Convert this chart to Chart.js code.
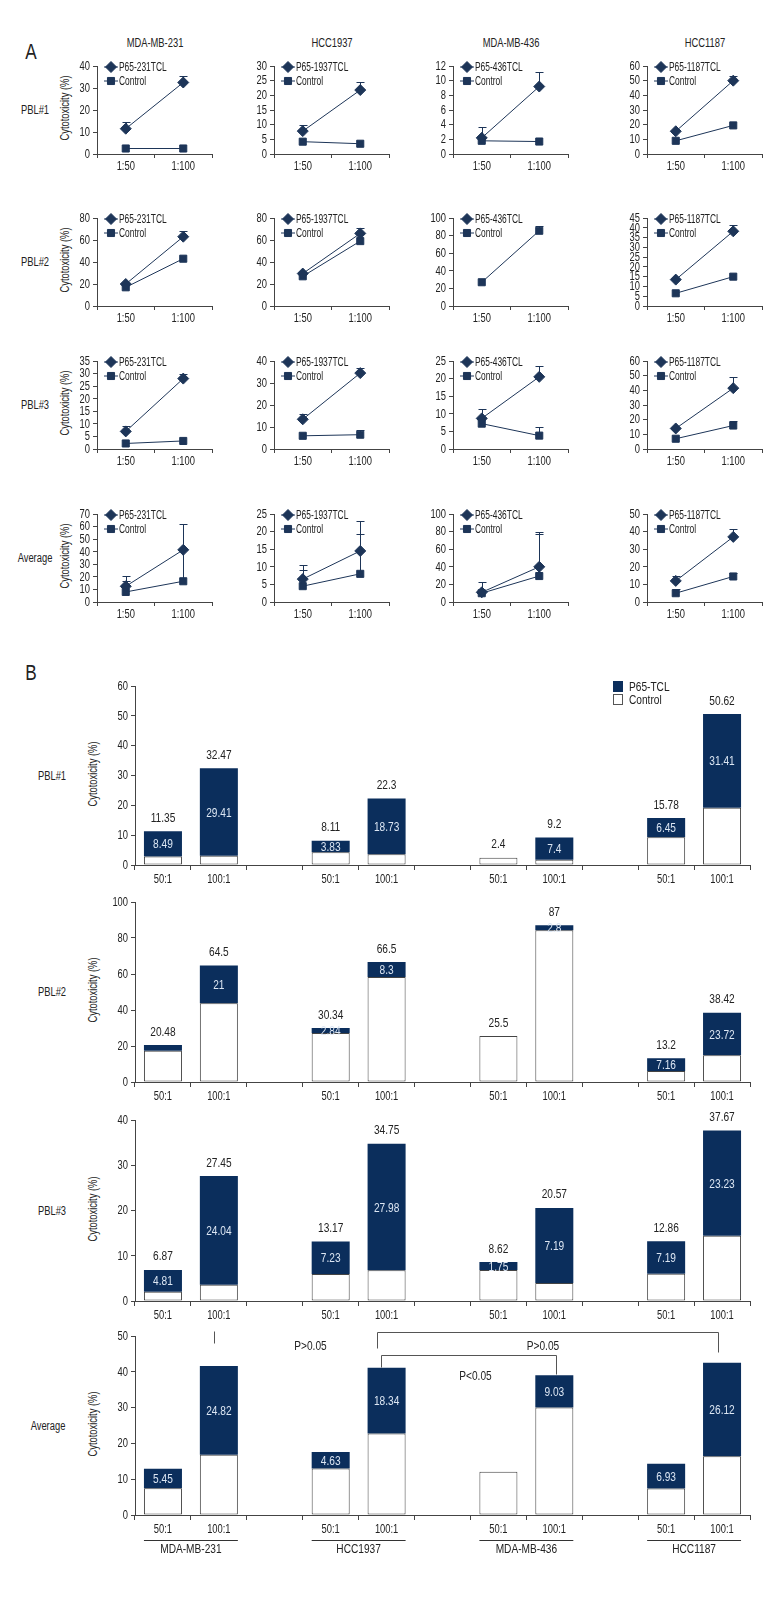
<!DOCTYPE html>
<html>
<head>
<meta charset="utf-8">
<script src="https://cdn.jsdelivr.net/npm/chart.js@4.4.1/dist/chart.umd.min.js"></script>
<style>
  body { margin: 0; background: #fff; width: 780px; height: 1620px; position: relative; overflow: hidden; color: #222;
         font-family: "Liberation Sans", Arial, sans-serif; }
  canvas { position: absolute; }
  .txt { position: absolute; white-space: nowrap; line-height: 1; }
</style>
</head>
<body>
<script>
// ---- Data ----
const cellLines = ["MDA-MB-231", "HCC1937", "MDA-MB-436", "HCC1187"];
const rowNames = ["PBL#1", "PBL#2", "PBL#3", "Average"];
const ratioLabels = ["1:50", "1:100"];
const p65Names = ["P65-231TCL", "P65-1937TCL", "P65-436TCL", "P65-1187TCL"];

// Panel A, [row][cell line] = [1:50, 1:100]
const p65Line = [
  [[11.5, 32.5], [7.8, 21.8], [2.2, 9.2], [15.5, 50]],
  [[20, 63], [29.5, 66], [null, null], [13.5, 38.2]],
  [[7, 28], [13.5, 34.5], [8.7, 20.5], [14, 41.5]],
  [[12.5, 41.5], [6.5, 14.5], [11, 40], [12, 37]],
];
const p65ErrTop = [
  [[14.5, 35.5], [9.8, 24.5], [3.7, 11.2], [null, 53]],
  [[null, 68], [null, 71], [null, null], [null, 41.5]],
  [[9, 30], [16, 37], [11.5, 23.5], [null, 49]],
  [[20.5, 62], [10.5, 23], [23, 79], [15, 41.5]],
];
const ctrlLine = [
  [[2.5, 2.5], [4.2, 3.5], [1.8, 1.7], [9, 19.5]],
  [[17, 43], [27, 59], [27, 85.5], [6.5, 15]],
  [[2.2, 3.2], [6, 6.5], [7.2, 3.8], [7, 16]],
  [[8, 16.5], [4.5, 8], [10, 29.5], [5, 14.5]],
];
const ctrlErrTop = [
  [[null, null], [null, null], [null, null], [null, null]],
  [[null, null], [null, null], [null, 91], [null, null]],
  [[null, null], [null, 8.5], [null, 6.2], [null, 19]],
  [[17, 41.5], [9, 19.3], [null, 77.5], [7.5, 16.5]],
];
const yMaxA = [[40, 30, 12, 60], [80, 80, 100, 45], [35, 40, 25, 60], [70, 25, 100, 50]];
const yStepA = [[10, 5, 2, 10], [20, 20, 20, 5], [5, 10, 5, 10], [10, 5, 20, 10]];

// Panel B
const barLabels = ["50:1", "100:1", "", "50:1", "100:1", "", "50:1", "100:1", "", "50:1", "100:1"];
const ctrlBars = [
  [2.86, 3.06, null, 4.28, 3.57, null, 2.4, 1.8, null, 9.33, 19.21],
  [17.4, 43.7, null, 27.2, 58.3, null, 25.5, 84.3, null, 6.1, 14.8],
  [2.06, 3.6, null, 5.94, 6.77, null, 6.87, 4.0, null, 6.0, 14.44],
  [7.5, 16.8, null, 13.0, 22.8, null, 12.1, 30.0, null, 7.4, 16.4],
];
const p65Bars = [
  [8.49, 29.41, null, 3.83, 18.73, null, null, 7.4, null, 6.45, 31.41],
  [3.1, 21, null, 2.84, 8.3, null, null, 2.8, null, 7.16, 23.72],
  [4.81, 24.04, null, 7.23, 27.98, null, 1.75, 16.57, null, 7.19, 23.23],
  [5.45, 24.82, null, 4.63, 18.34, null, null, 9.03, null, 6.93, 26.12],
];
const totalText = [
  ["11.35", "32.47", "", "8.11", "22.3", "", "2.4", "9.2", "", "15.78", "50.62"],
  ["20.48", "64.5", "", "30.34", "66.5", "", "25.5", "87", "", "13.2", "38.42"],
  ["6.87", "27.45", "", "13.17", "34.75", "", "8.62", "20.57", "", "12.86", "37.67"],
  ["", "", "", "", "", "", "", "", "", "", ""],
];
const segText = [
  ["8.49", "29.41", "", "3.83", "18.73", "", "", "7.4", "", "6.45", "31.41"],
  ["", "21", "", "2.84", "8.3", "", "", "2.8", "", "7.16", "23.72"],
  ["4.81", "24.04", "", "7.23", "27.98", "", "1.75", "7.19", "", "7.19", "23.23"],
  ["5.45", "24.82", "", "4.63", "18.34", "", "", "9.03", "", "6.93", "26.12"],
];
const yMaxB = [60, 100, 40, 50];
const yStepB = [10, 20, 10, 10];
const groupPairs = [[0, 1], [3, 4], [6, 7], [9, 10]];

// ---- Style ----
const FONT = '"Liberation Sans", Arial, sans-serif';
const SQUEEZE = 0.78; // the figure uses a condensed face, we narrow a normal one
const NAVY = "#0b2e5c";
const LINE = "#1d3558";
const AXIS = "#444";
const INK = "#222";
Chart.defaults.font.family = FONT;
Chart.defaults.color = INK;
Chart.defaults.animation = false;

function addCanvas(left, top, width, height) {
  const c = document.createElement("canvas");
  c.width = width;
  c.height = height;
  c.style.left = left + "px";
  c.style.top = top + "px";
  document.body.appendChild(c);
  return c;
}

function addText(text, x, y, size, rotate) {
  const d = document.createElement("div");
  d.className = "txt";
  d.textContent = text;
  d.style.left = x + "px";
  d.style.top = y + "px";
  d.style.fontSize = size + "px";
  d.style.transform = "translate(-50%,-50%)" + (rotate ? " rotate(-90deg)" : "") + " scaleX(" + SQUEEZE + ")";
  document.body.appendChild(d);
}

// narrow text on a canvas
function condText(ctx, text, x, y, align, color, size, squeeze) {
  ctx.save();
  ctx.font = (size || 12) + "px " + FONT;
  ctx.fillStyle = color || INK;
  ctx.textBaseline = "middle";
  ctx.textAlign = align;
  ctx.translate(x, y);
  ctx.scale(squeeze || SQUEEZE, 1);
  ctx.fillText(text, 0, 0);
  ctx.restore();
}

// tick labels drawn by hand so they can be narrowed
const tickText = {
  id: "tickText",
  afterDraw(chart, args, opts) {
    const { ctx, scales: { x, y }, chartArea: a } = chart;
    x.ticks.forEach((t, i) => {
      const lab = chart.data.labels[i];
      if (lab) condText(ctx, lab, x.getPixelForTick(i), a.bottom + opts.xGap, "center");
    });
    y.ticks.forEach((t) => {
      condText(ctx, String(t.value), a.left - 7, y.getPixelForValue(t.value) + 0.5, "right");
    });
  },
};

// error bars drawn under the markers
const errorBars = {
  id: "errorBars",
  beforeDatasetsDraw(chart) {
    const { ctx, scales: { x, y } } = chart;
    ctx.save();
    ctx.strokeStyle = LINE;
    ctx.lineWidth = 1;
    chart.data.datasets.forEach((ds) => {
      (ds.errTop || []).forEach((top, i) => {
        if (top == null || ds.data[i] == null) return;
        const px = Math.round(x.getPixelForValue(i)) + 0.5;
        const y0 = y.getPixelForValue(ds.data[i]);
        const y1 = Math.round(y.getPixelForValue(top)) + 0.5;
        ctx.beginPath();
        ctx.moveTo(px, y0);
        ctx.lineTo(px, y1);
        ctx.moveTo(px - 4, y1);
        ctx.lineTo(px + 4, y1);
        ctx.stroke();
      });
    });
    ctx.restore();
  },
};

// small legend inside the plot area (panel A)
const lineLegend = {
  id: "lineLegend",
  afterDraw(chart) {
    const { ctx, chartArea: a } = chart;
    chart.data.datasets.forEach((ds, k) => {
      const yy = a.top + 1 + k * 14;
      const x0 = a.left + 7;
      ctx.save();
      ctx.strokeStyle = LINE;
      ctx.fillStyle = LINE;
      ctx.lineWidth = 1;
      ctx.beginPath();
      ctx.moveTo(x0, yy);
      ctx.lineTo(x0 + 14, yy);
      ctx.stroke();
      Chart.helpers.drawPoint(ctx, { pointStyle: ds.pointStyle, radius: ds.pointRadius, borderWidth: 1 }, x0 + 7, yy);
      ctx.restore();
      condText(ctx, ds.label, x0 + 15, yy + 1, "left", INK, 12, 0.7);
    });
  },
};

// ---- Panel A ----
const colX = [97, 274, 453, 647];
const colW = 115;
const rowTop = [66, 218, 361, 514];
const rowH = 88;

addText("A", 31, 52, 22);
cellLines.forEach((name, c) => addText(name, colX[c] + colW / 2, 43, 12));

for (let r = 0; r < 4; r++) {
  addText(rowNames[r], 35, rowTop[r] + rowH / 2, 12);
  addText("Cytotoxicity (%)", 65, rowTop[r] + rowH / 2 - 2, 12, true);
  for (let c = 0; c < 4; c++) {
    const canvas = addCanvas(colX[c] - 40, rowTop[r] - 10, colW + 50, rowH + 38);
    new Chart(canvas, {
      type: "line",
      data: {
        labels: ratioLabels,
        datasets: [
          {
            label: p65Names[c],
            data: p65Line[r][c],
            errTop: p65ErrTop[r][c],
            borderColor: LINE,
            backgroundColor: LINE,
            borderWidth: 1,
            pointStyle: "rectRot",
            pointRadius: 5.5,
            pointBorderWidth: 1,
          },
          {
            label: "Control",
            data: ctrlLine[r][c],
            errTop: ctrlErrTop[r][c],
            borderColor: LINE,
            backgroundColor: LINE,
            borderWidth: 1,
            pointStyle: "rect",
            pointRadius: 5,
            pointBorderWidth: 1,
          },
        ],
      },
      options: {
        responsive: false,
        layout: { padding: { top: 10, right: 10, left: 0, bottom: 0 }, autoPadding: false },
        plugins: { legend: { display: false }, tooltip: { enabled: false }, tickText: { xGap: 13 } },
        scales: {
          x: {
            offset: true,
            grid: { offset: true, drawOnChartArea: false, tickLength: 4, color: AXIS },
            border: { color: AXIS },
            ticks: { display: false, autoSkip: false },
            afterFit: (s) => { s.height = 28; },
          },
          y: {
            min: 0,
            max: yMaxA[r][c],
            grid: { drawOnChartArea: false, tickLength: 4, color: AXIS },
            border: { color: AXIS },
            ticks: { display: false, autoSkip: false, stepSize: yStepA[r][c] },
            afterFit: (s) => { s.width = 40; },
          },
        },
      },
      plugins: [errorBars, lineLegend, tickText],
    });
  }
}

// ---- Panel B ----
const barText = {
  id: "barText",
  afterDatasetsDraw(chart, args, opts) {
    const ctx = chart.ctx;
    const ctrlMeta = chart.getDatasetMeta(0);
    const p65Meta = chart.getDatasetMeta(1);
    chart.data.labels.forEach((lab, i) => {
      if (chart.data.datasets[0].data[i] == null) return;
      const seg = p65Meta.data[i];
      const hasSeg = chart.data.datasets[1].data[i] != null;
      const ctrlEl = ctrlMeta.data[i];
      const topY = hasSeg ? seg.y : ctrlEl.y;
      if (opts.totals[i]) condText(ctx, opts.totals[i], ctrlEl.x, topY - 13, "center", INK, 13);
      if (hasSeg && opts.segs[i]) condText(ctx, opts.segs[i], seg.x, (seg.y + seg.base) / 2 + 1, "center", "#dce6f3", 13);
    });
  },
};

const barLegend = {
  id: "barLegend",
  afterDraw(chart) {
    const ctx = chart.ctx;
    const a = chart.chartArea;
    const x0 = a.left + 478;
    ctx.save();
    ctx.fillStyle = NAVY;
    ctx.fillRect(x0, a.top - 5, 10, 11);
    ctx.strokeStyle = "#555";
    ctx.lineWidth = 1;
    ctx.strokeRect(x0 + 0.5, a.top + 8.5, 9, 10);
    ctx.restore();
    condText(ctx, "P65-TCL", x0 + 16, a.top + 1, "left", INK, 13);
    condText(ctx, "Control", x0 + 16, a.top + 14, "left", INK, 13);
  },
};

const groupAxis = {
  id: "groupAxis",
  afterDraw(chart) {
    const ctx = chart.ctx;
    const meta = chart.getDatasetMeta(0);
    const b = chart.chartArea.bottom;
    groupPairs.forEach(([i, j], k) => {
      const l = meta.data[i].x - meta.data[i].width / 2;
      const rr = meta.data[j].x + meta.data[j].width / 2;
      ctx.save();
      ctx.strokeStyle = "#333";
      ctx.lineWidth = 1;
      ctx.beginPath();
      ctx.moveTo(l, b + 25.5);
      ctx.lineTo(rr, b + 25.5);
      ctx.stroke();
      ctx.restore();
      condText(ctx, cellLines[k], (l + rr) / 2, b + 34, "center", INK, 13);
    });
  },
};

const sigMarks = {
  id: "sigMarks",
  afterDraw(chart) {
    const { ctx, scales: { x, y } } = chart;
    const X = (i) => Math.round(x.getPixelForValue(i)) + 0.5;
    const Y = (v) => Math.round(y.getPixelForValue(v)) + 0.5;
    ctx.save();
    ctx.strokeStyle = "#555";
    ctx.lineWidth = 1;
    ctx.beginPath();
    // tick above MDA-MB-231 100:1
    ctx.moveTo(X(1) - 5, Y(51.5));
    ctx.lineTo(X(1) - 5, Y(48));
    // outer bracket HCC1937 100:1 -> HCC1187 100:1
    ctx.moveTo(X(4) - 10, Y(46.6));
    ctx.lineTo(X(4) - 10, Y(51));
    ctx.lineTo(X(10) - 4, Y(51));
    ctx.lineTo(X(10) - 4, Y(45.5));
    // inner bracket HCC1937 100:1 -> MDA-MB-436 100:1
    ctx.moveTo(X(4) - 6, Y(41.3));
    ctx.lineTo(X(4) - 6, Y(44.7));
    ctx.lineTo(X(7) + 2, Y(44.7));
    ctx.lineTo(X(7) + 2, Y(39.3));
    ctx.stroke();
    ctx.restore();
    condText(ctx, "P>0.05", X(2) + 35, Y(47.3), "center", INK, 13);
    condText(ctx, "P>0.05", (X(4) + X(10)) / 2 - 12, Y(47.3), "center", INK, 13);
    condText(ctx, "P<0.05", X(6) - 23, Y(38.9), "center", INK, 13);
  },
};

const plotLeft = 135;
const plotW = 615;
const barTop = [686, 902, 1120, 1336];
const barH = [179, 180, 181, 179];

addText("B", 31, 673, 22);

for (let r = 0; r < 4; r++) {
  const isAvg = r === 3;
  const bottomExtra = isAvg ? 46 : 22;
  addText(rowNames[r], isAvg ? 48 : 52, barTop[r] + barH[r] / 2, 12);
  addText("Cytotoxicity (%)", 93, barTop[r] + barH[r] / 2 - 2, 12, true);
  const canvas = addCanvas(plotLeft - 45, barTop[r] - 16, plotW + 55, barH[r] + 16 + bottomExtra);
  const plugins = [barText, tickText];
  if (r === 0) plugins.push(barLegend);
  if (isAvg) plugins.push(groupAxis, sigMarks);
  new Chart(canvas, {
    type: "bar",
    data: {
      labels: barLabels,
      datasets: [
        {
          label: "Control",
          data: ctrlBars[r],
          backgroundColor: "#fff",
          borderColor: "#444",
          borderWidth: 1,
          borderSkipped: false,
        },
        {
          label: "P65-TCL",
          data: p65Bars[r],
          backgroundColor: NAVY,
          borderWidth: 0,
        },
      ],
    },
    options: {
      responsive: false,
      layout: { padding: { top: 16, right: 10, left: 0, bottom: isAvg ? 24 : 0 }, autoPadding: false },
      datasets: { bar: { barPercentage: 0.68, categoryPercentage: 1 } },
      plugins: {
        legend: { display: false },
        tooltip: { enabled: false },
        barText: { totals: totalText[r], segs: segText[r] },
        tickText: { xGap: 15 },
      },
      scales: {
        x: {
          stacked: true,
          grid: { offset: true, drawOnChartArea: false, tickLength: 5, color: AXIS },
          border: { color: AXIS },
          ticks: { display: false, autoSkip: false },
          afterFit: (s) => { s.height = 22; },
        },
        y: {
          stacked: true,
          min: 0,
          max: yMaxB[r],
          grid: { drawOnChartArea: false, tickLength: 4, color: AXIS },
          border: { color: AXIS },
          ticks: { display: false, autoSkip: false, stepSize: yStepB[r] },
          afterFit: (s) => { s.width = 45; },
        },
      },
    },
    plugins: plugins,
  });
}
</script>
</body>
</html>
